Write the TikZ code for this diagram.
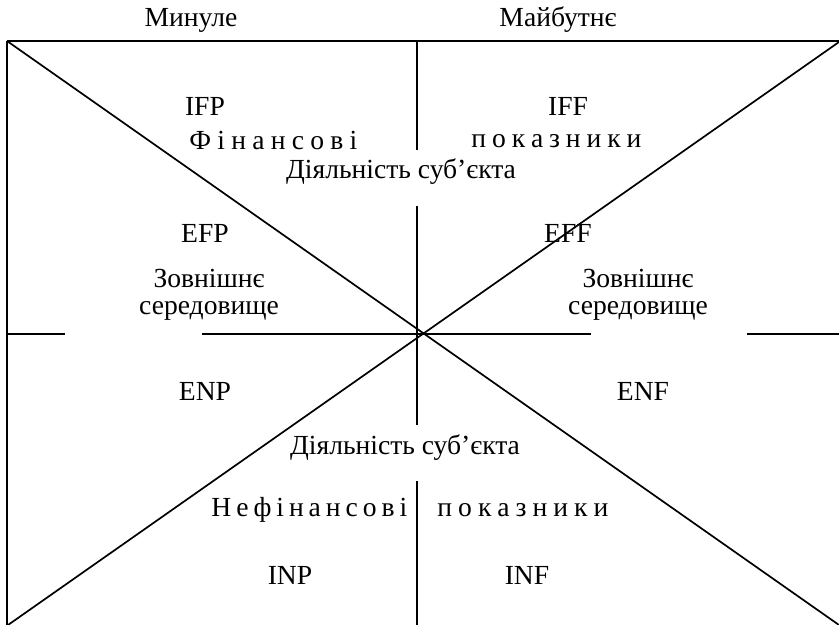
\documentclass[tikz,border=0pt]{standalone}
\usepackage{fontspec}
\setmainfont{Liberation Serif}
\usepackage{tikz}
\usetikzlibrary{positioning,calc}

\begin{document}
\begin{tikzpicture}[
    x=0.5pt, y=-0.5pt,
    frm/.style={line width=1.3pt, black},
    diag/.style={line width=0.85pt, black},
    vln/.style={line width=1.1pt, black},
    txt/.style={font=\fontsize{13.8}{16}\selectfont, inner sep=0pt},
]
\useasboundingbox (0,0) rectangle (839,625);
% corners
\coordinate (tl) at (7,41);
\coordinate (tr) at (839,41);
\coordinate (bl) at (7,625);
\coordinate (br) at (839,625);
\draw[frm] (tl) -- (tr);
\draw[diag] (tl) -- (bl);
\draw[diag] (tl) -- (br);
\draw[diag] (839,42) -- (8,625);
% centre line
\draw[vln] (417,41) -- (417,150);
\draw[vln] (417,206) -- (417,425);
\draw[vln] (417,481) -- (417,625);
\draw[frm] (6,334) -- (65,334);
\draw[frm] (202,334) -- (591,334);
\draw[frm] (747,334) -- (839,334);
% labels
\node[txt] (past) at (191,20) {Минуле};
\node[txt] (future) at (558,20) {Майбутнє};
\node[txt] (ifp) at (205,106) {IFP};
\node[txt] (iff) at (568,106) {IFF};
\node[txt, anchor=west] (finL) at (189,141) {\hbox to 84pt{Ф\hfill і\hfill н\hfill а\hfill н\hfill с\hfill о\hfill в\hfill і}};
\node[txt, anchor=west] (finR) at (471,141) {\hbox to 85pt{п\hfill о\hfill к\hfill а\hfill з\hfill н\hfill и\hfill к\hfill и}};
\node[txt] (actTop) at (401,172) {Діяльність суб’єкта};
\node[txt] (efp) at (205,233) {EFP};
\node[txt] (eff) at (568,233) {EFF};
\node[txt] (envL1) at (209,278) {Зовнішнє};
\node[txt] (envL2) at (209,311) {середовище};
\node[txt] (envR1) at (638,278) {Зовнішнє};
\node[txt] (envR2) at (638,311) {середовище};
\node[txt] (enp) at (205,391) {ENP};
\node[txt] (enf) at (643,391) {ENF};
\node[txt] (actBot) at (405,448) {Діяльність суб’єкта};
\node[txt, anchor=west] (nfinL) at (211,510) {\hbox to 98pt{Н\hfill е\hfill ф\hfill і\hfill н\hfill а\hfill н\hfill с\hfill о\hfill в\hfill і}};
\node[txt, anchor=west] (nfinR) at (437,510) {\hbox to 85.5pt{п\hfill о\hfill к\hfill а\hfill з\hfill н\hfill и\hfill к\hfill и}};
\node[txt] (inp) at (290,575) {INP};
\node[txt] (inf) at (527,575) {INF};
\end{tikzpicture}
\end{document}
